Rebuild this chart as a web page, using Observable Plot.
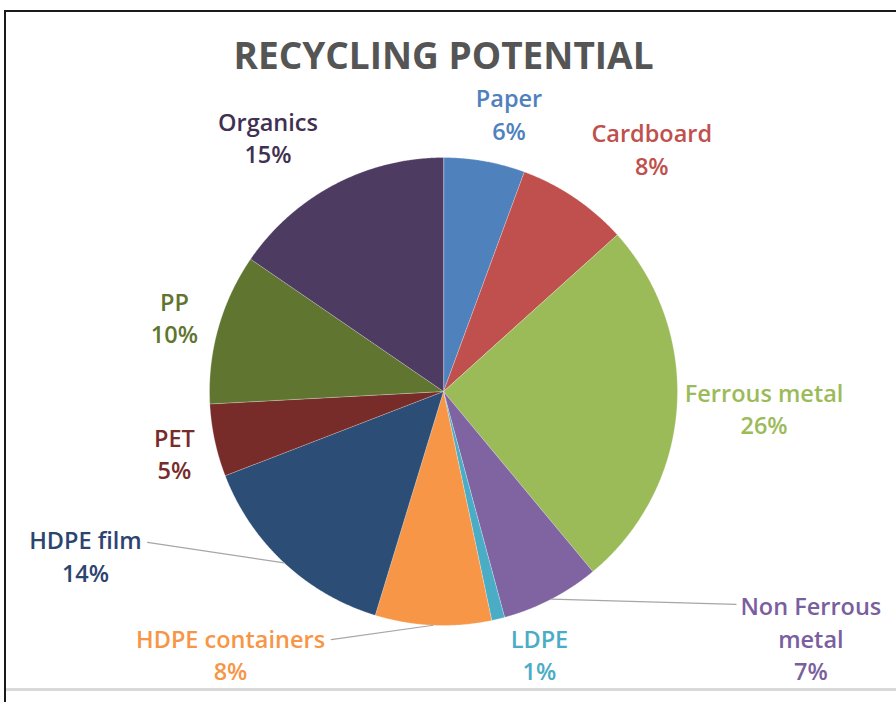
<!DOCTYPE html>
<html>
<head>
<meta charset="utf-8">
<script src="https://cdn.jsdelivr.net/npm/d3@7"></script>
<script src="https://cdn.jsdelivr.net/npm/@observablehq/plot@0.6"></script>
<style>
  html, body { margin: 0; padding: 0; background: #fff; }
  #wrap { position: relative; width: 896px; height: 702px; overflow: hidden; }
  #wrap svg { position: absolute; left: 0; top: 0; }
  #frame { position: absolute; left: 4px; top: 10px; width: 900px; height: 700px;
           border-left: 2px solid #1a1a1a; border-top: 2px solid #1a1a1a;
           pointer-events: none; z-index: 2; }
  #bottomline { position: absolute; left: 6px; top: 688px; width: 900px; height: 3px;
           background: #d9d9d9; pointer-events: none; z-index: 2; }
</style>
</head>
<body>
<div id="wrap"><div id="frame"></div><div id="bottomline"></div></div>
<script>
// ---- data ----
const categories = ["Paper", "Cardboard", "Ferrous metal", "Non Ferrous metal", "LDPE",
                    "HDPE containers", "HDPE film", "PET", "PP", "Organics"];
const shares = [5.6, 7.7, 25.6, 6.8, 0.9, 8.0, 14.4, 5.0, 10.4, 15.4];
const sliceColors = ["#4F81BD", "#C0504D", "#9BBB59", "#8064A2", "#4BACC6",
                     "#F79646", "#2C4D75", "#772C2A", "#5F7530", "#4D3B62"];
const labelColors = ["#4F81BD", "#C0504D", "#9BBB59", "#7A5FA0", "#4BACC6",
                     "#F79646", "#2C4570", "#772C2A", "#5F7530", "#3F3151"];
const labelNames = ["Paper", "Cardboard", "Ferrous metal", "Non Ferrous\nmetal", "LDPE",
                    "HDPE containers", "HDPE film", "PET", "PP", "Organics"];
const title = "RECYCLING POTENTIAL";

// ---- layout (in pie-radius units, centre = 0,0) ----
const labelX = [0.28, 0.89, 1.37, 1.57, 0.41, -0.91, -1.53, -1.15, -1.15, -0.75];
const labelY = [1.19, 1.04, -0.07, -1.05, -1.12, -1.12, -0.70, -0.26, 0.32, 1.09];
const leaderSlices = ["Non Ferrous metal", "HDPE containers", "HDPE film"];
const leaderEndX = [1.25, -0.48, -1.265];
const leaderEndY = [-0.91, -1.06, -0.645];

const W = 896, H = 702, CX = 443, CY = 391, R = 234;

// ---- build slices ----
const data = categories.map((c, i) => ({name: c, value: shares[i], color: sliceColors[i],
  labelColor: labelColors[i], label: labelNames[i] + "\n" + Math.round(shares[i]) + "%",
  lx: labelX[i], ly: labelY[i]}));
const arcs = d3.pie().sort(null).value(d => d.value)(data);
const polyPts = [];
arcs.forEach(a => {
  const n = Math.max(2, Math.ceil((a.endAngle - a.startAngle) / 0.005));
  polyPts.push({name: a.data.name, color: a.data.color, x: 0, y: 0});
  for (let k = 0; k <= n; k++) {
    const t = a.startAngle + (a.endAngle - a.startAngle) * k / n;
    polyPts.push({name: a.data.name, color: a.data.color, x: Math.sin(t), y: Math.cos(t)});
  }
});
const leaders = [];
leaderSlices.forEach((s, i) => {
  const a = arcs.find(d => d.data.name === s);
  const m = (a.startAngle + a.endAngle) / 2;
  leaders.push({name: s, x: Math.sin(m), y: Math.cos(m)});
  leaders.push({name: s, x: leaderEndX[i], y: leaderEndY[i]});
});

const chart = Plot.plot({
  width: W, height: H, margin: 0,
  style: {background: "transparent", fontFamily: "'Open Sans', sans-serif"},
  x: {domain: [-CX / R, (W - CX) / R], range: [0, W], axis: null},
  y: {domain: [-(H - CY) / R, CY / R], range: [H, 0], axis: null},
  color: {type: "identity"},
  marks: [
    Plot.line(polyPts, {x: "x", y: "y", z: "name", fill: "color", stroke: "#ffffff",
      strokeOpacity: 0.35, strokeWidth: 0.8, curve: "linear-closed"}),
    Plot.line(leaders, {x: "x", y: "y", z: "name", stroke: "#a6a6a6", strokeWidth: 1.2}),
    Plot.text(data, {x: "lx", y: "ly", text: "label", fill: "labelColor",
      fontSize: 23.5, fontWeight: 600, lineHeight: 1.38, textAnchor: "middle", lineAnchor: "middle"}),
    Plot.text([title], {frameAnchor: "top", dx: -5, dy: 57, text: d => d, fill: "#555555",
      fontSize: 37, fontWeight: 700, lineAnchor: "middle"})
  ]
});
document.getElementById("wrap").appendChild(chart);
</script>
</body>
</html>
